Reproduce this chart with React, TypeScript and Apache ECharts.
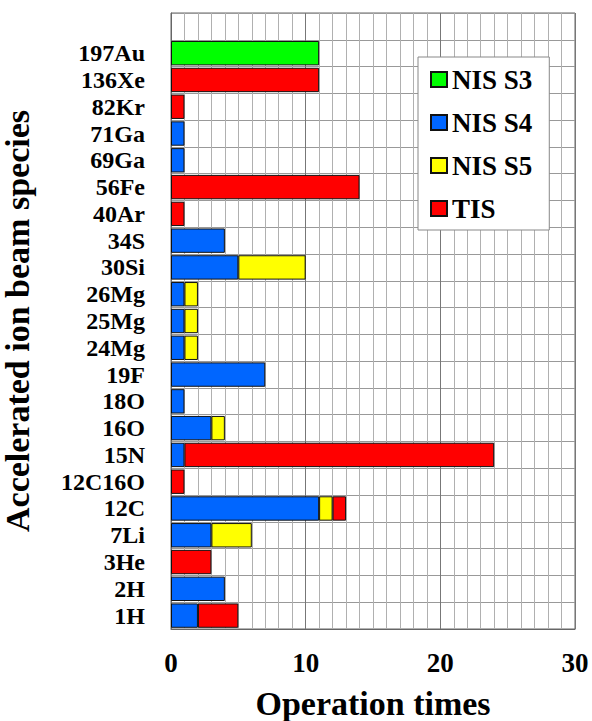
import React, { useEffect, useRef } from "react";
import * as echarts from "echarts";

const categories = ["1H", "2H", "3He", "7Li", "12C", "12C16O", "15N", "16O", "18O", "19F", "24Mg", "25Mg", "26Mg", "30Si", "34S", "40Ar", "56Fe", "69Ga", "71Ga", "82Kr", "136Xe", "197Au", ""];
const seriesNames = ["NIS S3", "NIS S4", "NIS S5", "TIS"];
const nisS3 = [null, null, null, null, null, null, null, null, null, null, null, null, null, null, null, null, null, null, null, null, null, 11, null];
const nisS4 = [2, 4, null, 3, 11, null, 1, 3, 1, 7, 1, 1, 1, 5, 4, null, null, 1, 1, null, null, null, null];
const nisS5 = [null, null, null, 3, 1, null, null, 1, null, null, 1, 1, 1, 5, null, null, null, null, null, null, null, null, null];
const tis = [3, null, 3, null, 1, 1, 23, null, null, null, null, null, null, null, null, 1, 14, null, null, 1, 11, null, null];
const xTicks = [0, 10, 20, 30];

const colors = ["#00ff00", "#0066ff", "#ffff00", "#ff0000"];
const FONT = "Liberation Serif";

export default function App() {
  const ref = useRef<HTMLDivElement>(null);
  useEffect(() => {
    if (!ref.current) return;
    const chart = echarts.init(ref.current, null, { renderer: "svg" });
    const datas = [nisS3, nisS4, nisS5, tis];
    chart.setOption({
      animation: false,
      backgroundColor: "#ffffff",
      grid: {
        left: 171,
        right: 17,
        top: 13,
        bottom: 92,
        show: true,
        borderColor: "#666",
        borderWidth: 1,
        containLabel: false,
        outerBoundsMode: "none",
      },
      legend: {
        orient: "vertical",
        left: 418,
        top: 57,
        padding: [9, 17, 8, 12],
        itemGap: 16,
        itemWidth: 16,
        itemHeight: 15,
        borderColor: "#888",
        borderWidth: 1,
        backgroundColor: "#fff",
        icon: "rect",
        data: seriesNames,
        textStyle: { fontFamily: FONT, fontSize: 27, fontWeight: "bold", color: "#000" },
      },
      xAxis: {
        type: "value",
        min: xTicks[0],
        max: xTicks[xTicks.length - 1],
        interval: 10,
        name: "Operation times",
        nameLocation: "middle",
        nameGap: 57,
        nameTextStyle: { fontFamily: FONT, fontSize: 34, fontWeight: "bold", color: "#000" },
        axisLine: { show: true, lineStyle: { color: "#666" } },
        axisTick: { show: false },
        axisLabel: { fontFamily: FONT, fontSize: 27, fontWeight: "bold", color: "#000", margin: 20 },
        splitLine: { show: true, lineStyle: { color: "#777", width: 1 } },
        minorTick: { show: false, splitNumber: 10 },
        minorSplitLine: { show: true, lineStyle: { color: "#b0b0b0", width: 1 } },
      },
      yAxis: {
        type: "category",
        data: categories,
        name: "Accelerated ion beam species",
        nameLocation: "middle",
        nameGap: 137,
        nameRotate: 90,
        nameTextStyle: { fontFamily: FONT, fontSize: 34, fontWeight: "bold", color: "#000" },
        axisLine: { show: true, lineStyle: { color: "#666" } },
        axisTick: { show: false },
        axisLabel: { interval: 0, fontFamily: FONT, fontSize: 24, lineHeight: 24, fontWeight: "bold", color: "#000", margin: 26 },
        splitLine: { show: true, interval: 0, lineStyle: { color: "#999", width: 1 } },
      },
      series: seriesNames.map((n, i) => ({
        name: n,
        type: "bar",
        stack: "total",
        data: datas[i],
        barCategoryGap: "9%",
        itemStyle: { color: colors[i], borderColor: "#111", borderWidth: 1 },
      })),
    });
    return () => chart.dispose();
  }, []);
  return <div ref={ref} style={{ position: "fixed", left: 0, top: 0, width: 592, height: 721 }} />;
}
